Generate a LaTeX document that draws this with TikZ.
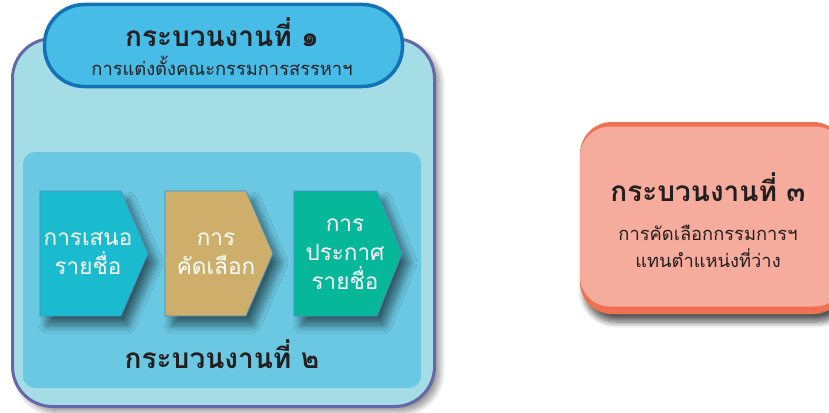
\documentclass[tikz,border=0pt]{standalone}
\usepackage{fontspec}
\newfontfamily\thai[Script=Thai]{Loma}
\usetikzlibrary{shadows.blur}
\definecolor{purp}{HTML}{6667A8}
\definecolor{outerfill}{HTML}{A5DDE6}
\definecolor{innerfill}{HTML}{6AC8E2}
\definecolor{pillfill}{HTML}{46BCE6}
\definecolor{pillline}{HTML}{1272B8}
\definecolor{chevA}{HTML}{1ABBCE}
\definecolor{chevB}{HTML}{CDAF6B}
\definecolor{chevC}{HTML}{06B79A}
\definecolor{chevline}{HTML}{4A8FC0}
\definecolor{orangeline}{HTML}{F07052}
\definecolor{pinkfill}{HTML}{F6AC9D}
\definecolor{darktext}{HTML}{231F20}
\tikzset{
  softshadow/.style={blur shadow={shadow xshift=5pt, shadow yshift=-5pt, shadow blur steps=10, shadow blur radius=6pt, shadow opacity=45}},
  darkshadow/.style={blur shadow={shadow xshift=4pt, shadow yshift=-8pt, shadow blur steps=10, shadow blur radius=6pt, shadow opacity=65}},
  chevshadow/.style={blur shadow={shadow xshift=7pt, shadow yshift=-9pt, shadow blur steps=12, shadow blur radius=8pt, shadow opacity=55}},
  chevshape/.style={draw=chevline, line width=0.8pt, chevshadow},
  chevtext/.style={text=white, align=center, font=\thai\fontsize{22.5}{29}\selectfont},
  headtext/.style={text=darktext, font=\thai\bfseries\fontsize{28}{30}\selectfont},
  subtext/.style={text=darktext, align=center, font=\thai\fontsize{18.3}{27}\selectfont},
}
\begin{document}
\begin{tikzpicture}[x=1pt,y=-1pt]
\useasboundingbox (0,0) rectangle (829,412);
\clip (0,0) rectangle (829,412);
% outer box
\node[draw=purp, line width=3pt, fill=outerfill, rounded corners=40pt, minimum width=422pt, minimum height=368pt, inner sep=0pt, softshadow] (outer) at (223.5,222.5) {};
% inner box
\node[fill=innerfill, rounded corners=12pt, minimum width=398pt, minimum height=236pt, inner sep=0pt] (inner) at (222,270) {};
% header pill
\node[draw=pillline, line width=3.5pt, fill=pillfill, rounded corners=40pt, minimum width=358pt, minimum height=82pt, inner sep=0pt] (pill) at (223.5,45.5) {};
\node[headtext] (t1) at (222,32) {กระบวนงานที่ ๑};
\node[subtext] (s1) at (222,66) {การแต่งตั้งคณะกรรมการสรรหาฯ};
% chevrons
\draw[chevshape, fill=chevA] (40,191) -- (121,191) -- (148,253.5) -- (121,316) -- (40,316) -- cycle;
\draw[chevshape, fill=chevB] (165,191) -- (246,191) -- (273,253.5) -- (246,316) -- (165,316) -- cycle;
\draw[chevshape, fill=chevC] (294,191) -- (377,191) -- (402,253.5) -- (377,316) -- (294,316) -- cycle;
\node[chevtext] (c1) at (88,253) {การเสนอ\\รายชื่อ};
\node[chevtext] (c2) at (216,254) {การ\\คัดเลือก};
\node[chevtext] (c3) at (345,254) {การ\\ประกาศ\\รายชื่อ};
\node[headtext] (t2) at (222,354) {กระบวนงานที่ ๒};
% process 3
\node[fill=orangeline, rounded corners=32pt, minimum width=265pt, minimum height=192pt, inner sep=0pt, darkshadow] (orange) at (712.5,218) {};
\node[fill=pinkfill, rounded corners=30pt, minimum width=265pt, minimum height=180pt, inner sep=0pt] (pink) at (712.5,216.5) {};
\node[headtext] (t3) at (708,187) {กระบวนงานที่ ๓};
\node[subtext] (s3) at (708,246) {การคัดเลือกกรรมการฯ\\แทนตำแหน่งที่ว่าง};
\end{tikzpicture}
\end{document}
